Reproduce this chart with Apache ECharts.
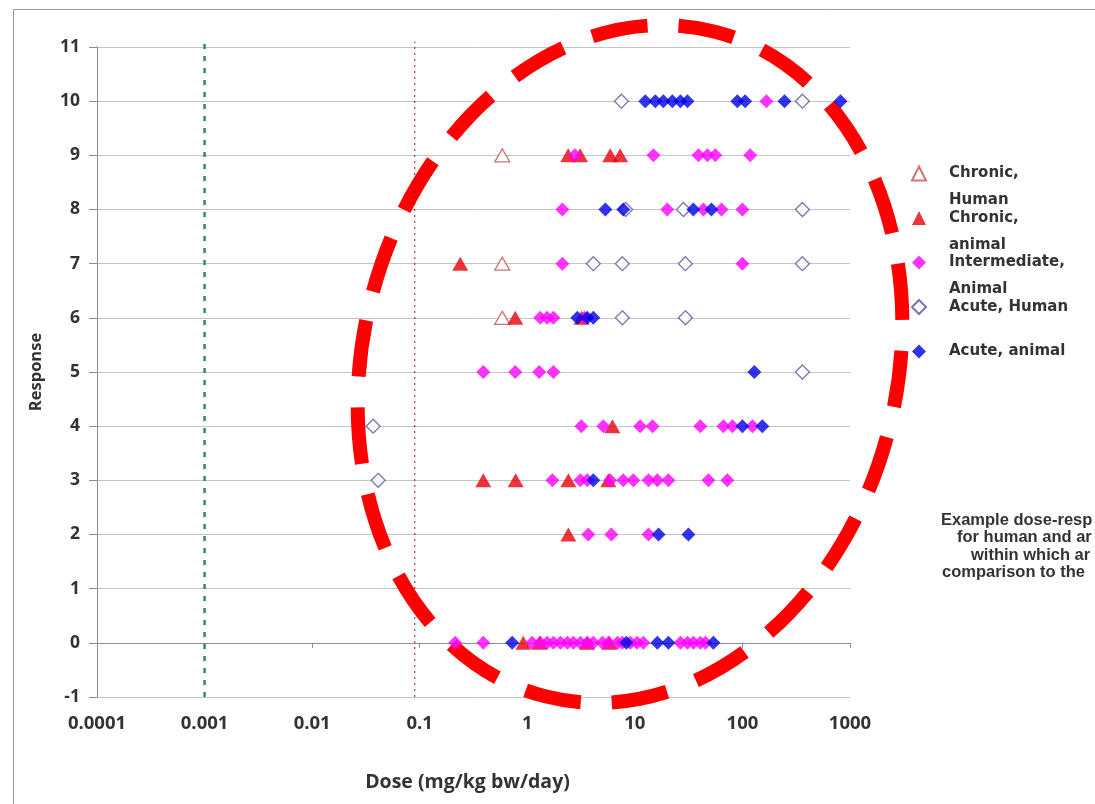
<!DOCTYPE html>
<html>
<head>
<meta charset="utf-8">
<script src="https://cdn.jsdelivr.net/npm/echarts/dist/echarts.min.js"></script>
<style>
  html, body { margin: 0; padding: 0; background: #fff; }
  #chart { width: 1095px; height: 804px; }
</style>
</head>
<body>
<div id="chart"></div>
<script>
// [dose mg/kg bw/day, response]
const chronicHuman = [[0.585, 9], [0.585, 7], [0.585, 6]];

const chronicAnimal = [
  [2.4, 9], [3.1, 9], [5.9, 9], [7.3, 9],
  [0.238, 7],
  [0.773, 6], [3.2, 6],
  [6.18, 4],
  [0.39, 3], [0.78, 3], [2.41, 3], [5.67, 3],
  [2.41, 2],
  [0.918, 0], [1.3, 0], [3.6, 0], [5.8, 0],
];

const intermediateAnimal = [
  [167, 10],
  [2.77, 9], [14.9, 9], [39, 9], [47.2, 9], [56, 9], [118, 9],
  [2.12, 8], [20, 8], [43.4, 8], [63.9, 8], [100, 8],
  [2.12, 7], [100, 7],
  [1.32, 6], [1.53, 6], [1.75, 6], [3.4, 6],
  [0.39, 5], [0.773, 5], [1.29, 5], [1.75, 5],
  [3.18, 4], [5.09, 4], [11.2, 4], [14.6, 4], [40.6, 4], [66.5, 4], [80.7, 4], [124, 4],
  [1.71, 3], [3.11, 3], [3.61, 3], [5.9, 3], [7.8, 3], [9.68, 3], [13.4, 3], [16.2, 3], [20.5, 3], [48.3, 3], [72.4, 3],
  [3.69, 2], [6.04, 2], [13.4, 2],
  [0.214, 0], [0.39, 0], [1.11, 0], [1.32, 0], [1.53, 0], [1.75, 0], [2.03, 0], [2.36, 0], [2.68, 0],
  [3.11, 0], [3.61, 0], [4.11, 0], [4.99, 0], [5.67, 0], [6.88, 0], [7.65, 0], [9.08, 0], [10.5, 0],
  [12.0, 0], [26.5, 0], [30.8, 0], [35.0, 0], [40.6, 0], [45.3, 0],
];

const acuteHuman = [
  [7.5, 10], [361, 10],
  [8.2, 8], [28.3, 8], [361, 8],
  [4.11, 7], [7.65, 7], [29.5, 7], [361, 7],
  [7.65, 6], [29.5, 6],
  [361, 5],
  [0.0369, 4],
  [0.0411, 3],
];

const acuteAnimal = [
  [12.5, 10], [15.5, 10], [18.4, 10], [22.3, 10], [26.5, 10], [30.8, 10], [89.8, 10], [106, 10], [246, 10], [816, 10],
  [5.32, 8], [7.8, 8], [35, 8], [51.5, 8],
  [2.92, 6], [3.61, 6], [4.11, 6],
  [129, 5],
  [100, 4], [153, 4],
  [4.11, 3],
  [16.6, 2], [31.5, 2],
  [0.724, 0], [8.34, 0], [16.2, 0], [20.5, 0], [53.7, 0],
];

// vertical reference doses
const refGreen = [[0.001, -1], [0.001, 11.1]];
const refRed = [[0.09, -1], [0.09, 11.1]];

const legendNames = ['Chronic,\nHuman', 'Chronic,\nanimal', 'Intermediate,\nAnimal', 'Acute, Human', 'Acute, animal'];
const noteLines = ['Example dose-resp', 'for human and ar', 'within which ar', 'comparison to the'];
const noteX = [941, 957, 971, 942];

const chart = echarts.init(document.getElementById('chart'));

// legend text: first line sits level with the icon, second line below it
const legendFormatter = name => {
  const lines = name.split('\n');
  if (lines.length === 1) lines.push(' ');
  return ['{t| }', ...lines.map(l => '{g| }{t|' + l + '}')].join('\n');
};

chart.setOption({
  backgroundColor: '#fff',
  animation: false,
  grid: { left: 97, right: 245, top: 47, bottom: 107, outerBoundsMode: 'none' },
  xAxis: {
    type: 'log',
    logBase: 10,
    min: 0.0001,
    max: 1000,
    name: 'Dose (mg/kg bw/day)',
    nameLocation: 'middle',
    nameGap: 75,
    nameTextStyle: { fontFamily: 'Open Sans', fontWeight: 'bold', fontSize: 19.5, color: '#333', padding: [0, 12, 0, 0] },
    axisLine: { lineStyle: { color: '#8c8c8c', width: 1 } },
    axisTick: { show: true, length: 5, lineStyle: { color: '#8c8c8c' } },
    minorTick: { show: false },
    splitLine: { show: false },
    axisLabel: {
      margin: 17,
      fontFamily: 'Open Sans',
      fontWeight: 'bold',
      fontSize: 18.5,
      color: '#333',
      formatter: v => String(Number(v.toPrecision(6))),
    },
  },
  yAxis: {
    type: 'value',
    min: -1,
    max: 11,
    interval: 1,
    name: 'Response',
    nameLocation: 'middle',
    nameRotate: 90,
    nameGap: 52,
    nameTextStyle: { fontFamily: 'Open Sans', fontWeight: 'bold', fontSize: 16.5, color: '#333' },
    axisLine: { show: true, lineStyle: { color: '#8c8c8c', width: 1 } },
    axisTick: { show: true, length: 8, lineStyle: { color: '#8c8c8c' } },
    splitLine: { show: true, lineStyle: { color: '#c4c4c4', width: 1 } },
    axisLabel: {
      margin: 17,
      fontFamily: 'Open Sans',
      fontWeight: 'bold',
      fontSize: 17.5,
      color: '#333',
    },
  },
  legend: {
    orient: 'vertical',
    left: 911,
    top: 139,
    padding: 0,
    itemGap: -24.5,
    itemWidth: 14,
    itemHeight: 14,
    selectedMode: false,
    formatter: legendFormatter,
    textStyle: {
      rich: {
        g: { width: 18, fontSize: 15, lineHeight: 27 },
        t: {
          fontFamily: 'DejaVu Sans',
          fontWeight: 'bold',
          fontSize: 15,
          lineHeight: 27,
          color: '#333',
        },
      },
    },
    data: legendNames,
  },
  graphic: [
    {
      type: 'rect',
      silent: true,
      z: 0,
      shape: { x: 13.5, y: 9.5, width: 1200, height: 1000 },
      style: { fill: 'none', stroke: '#9a9a9a', lineWidth: 1 },
    },
    {
      type: 'ellipse',
      silent: true,
      z: 1,
      x: 630,
      y: 364,
      rotation: -0.25,
      shape: { cx: 0, cy: 0, rx: 267, ry: 343 },
      style: { fill: 'none', stroke: '#ff0000', lineWidth: 14, lineDash: [56.5, 31], lineDashOffset: 81 },
    },
    ...noteLines.map((t, i) => ({
      type: 'text',
      silent: true,
      x: noteX[i],
      y: 520 + i * 17.5,
      style: {
        text: t,
        fontFamily: 'Liberation Sans',
        fontWeight: 'bold',
        fontSize: 16.5,
        fill: '#333',
        verticalAlign: 'middle',
      },
    })),
  ],
  series: [
    {
      type: 'line',
      name: 'ref-green',
      data: refGreen,
      clip: false,
      symbol: 'none',
      z: 1,
      lineStyle: { color: '#2e8b66', width: 2.5, type: [5, 7] },
    },
    {
      type: 'line',
      name: 'ref-red',
      data: refRed,
      clip: false,
      symbol: 'none',
      z: 1,
      lineStyle: { color: '#b01010', width: 1, type: [2, 4] },
    },
    {
      type: 'scatter',
      name: legendNames[0],
      data: chronicHuman,
      symbol: 'triangle',
      symbolSize: [15, 13],
      itemStyle: { color: '#fff', borderColor: '#c0504d', borderWidth: 1.3 },
    },
    {
      type: 'scatter',
      name: legendNames[1],
      data: chronicAnimal,
      symbol: 'triangle',
      symbolSize: [16, 14],
      itemStyle: { color: '#e8000b' },
    },
    {
      type: 'scatter',
      name: legendNames[2],
      data: intermediateAnimal,
      symbol: 'diamond',
      symbolSize: [14, 14],
      itemStyle: { color: '#ff00ff' },
    },
    {
      type: 'scatter',
      name: legendNames[3],
      data: acuteHuman,
      symbol: 'diamond',
      symbolSize: [14, 14],
      itemStyle: { color: '#fff', borderColor: '#55559a', borderWidth: 1.3 },
    },
    {
      type: 'scatter',
      name: legendNames[4],
      data: acuteAnimal,
      symbol: 'diamond',
      symbolSize: [14, 14],
      itemStyle: { color: '#0000e6' },
    },
  ],
});
</script>
</body>
</html>
